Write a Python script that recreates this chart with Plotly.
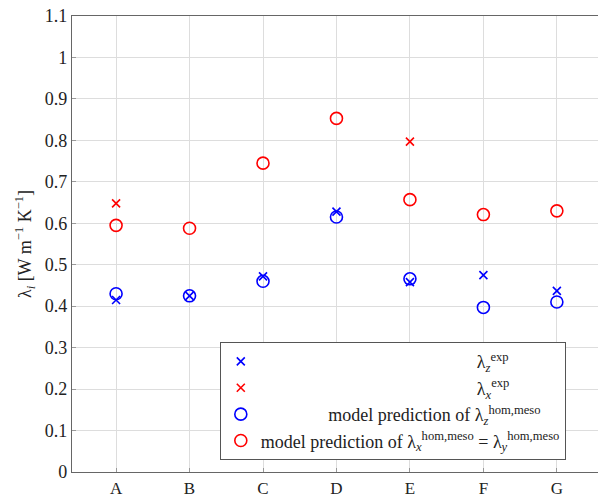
import plotly.graph_objects as go

categories = ["A", "B", "C", "D", "E", "F", "G"]
lam_z_exp = [0.415, 0.425, 0.472, 0.628, 0.458, 0.475, 0.437]
lam_x_exp_cats = ["A", "E"]
lam_x_exp = [0.648, 0.797]
model_z = [0.430, 0.425, 0.460, 0.615, 0.466, 0.397, 0.410]
model_x = [0.595, 0.588, 0.745, 0.853, 0.657, 0.621, 0.630]
y_ticks = [0, 0.1, 0.2, 0.3, 0.4, 0.5, 0.6, 0.7, 0.8, 0.9, 1, 1.1]

idx = {c: i for i, c in enumerate(categories)}
FONT = "Liberation Serif"
NB = "&nbsp;"

fig = go.Figure()
fig.add_trace(go.Scatter(
    x=[idx[c] for c in categories], y=lam_z_exp, mode="markers",
    marker=dict(symbol="x-thin-open", size=8, color="#0000ff", line=dict(color="#0000ff", width=1.6)),
    name=NB * 48 + "λ<sub><i>z</i></sub><sup>exp</sup>"))
fig.add_trace(go.Scatter(
    x=[idx[c] for c in lam_x_exp_cats], y=lam_x_exp, mode="markers",
    marker=dict(symbol="x-thin-open", size=8, color="#ff0000", line=dict(color="#ff0000", width=1.6)),
    name=NB * 48 + "λ<sub><i>x</i></sub><sup>exp</sup>"))
fig.add_trace(go.Scatter(
    x=[idx[c] for c in categories], y=model_z, mode="markers",
    marker=dict(symbol="circle-open", size=12, color="#0000ff", line=dict(color="#0000ff", width=1.6)),
    name=NB * 15 + "model prediction of λ<sub><i>z</i></sub><sup>hom,meso</sup>"))
fig.add_trace(go.Scatter(
    x=[idx[c] for c in categories], y=model_x, mode="markers",
    marker=dict(symbol="circle-open", size=12, color="#ff0000", line=dict(color="#ff0000", width=1.6)),
    name="model prediction of λ<sub><i>x</i></sub><sup>hom,meso</sup> = λ<sub><i>y</i></sub><sup>hom,meso</sup>"))

fig.update_layout(
    width=598, height=495,
    margin=dict(l=72, r=0, t=16, b=23),
    plot_bgcolor="white", paper_bgcolor="white",
    font=dict(family=FONT, size=18, color="#222222"),
    showlegend=True,
    legend=dict(
        x=0.281, y=0.026, xanchor="left", yanchor="bottom",
        bordercolor="#555555", borderwidth=1, bgcolor="white",
        font=dict(family=FONT, size=18, color="#222222"),
        itemwidth=30, tracegroupgap=0,
    ),
)
fig.update_xaxes(
    range=[-0.6, 6.56], tickmode="array",
    tickvals=list(range(len(categories))), ticktext=categories,
    showgrid=True, gridcolor="#dddddd", gridwidth=1,
    showline=True, linecolor="#666666", linewidth=1.2, mirror=True,
    ticks="inside", ticklen=4, tickcolor="#999999", zeroline=False,
    tickfont=dict(size=17),
    automargin=False,
)
fig.update_yaxes(
    range=[0, 1.1], tickmode="array", tickvals=y_ticks,
    ticktext=[("%g" % v) for v in y_ticks],
    showgrid=True, gridcolor="#dddddd", gridwidth=1,
    showline=True, linecolor="#666666", linewidth=1.2, mirror=True,
    ticks="inside", ticklen=4, tickcolor="#999999", zeroline=False,
    title=dict(text="λ<sub><i>i</i></sub> [W m<sup>−1</sup> K<sup>−1</sup>]", standoff=8,
               font=dict(family=FONT, size=18)),
    automargin=False,
)
fig.write_html("out.html", config={"displayModeBar": False},
               post_script="document.body.style.margin='0';document.body.style.overflow='hidden';")
